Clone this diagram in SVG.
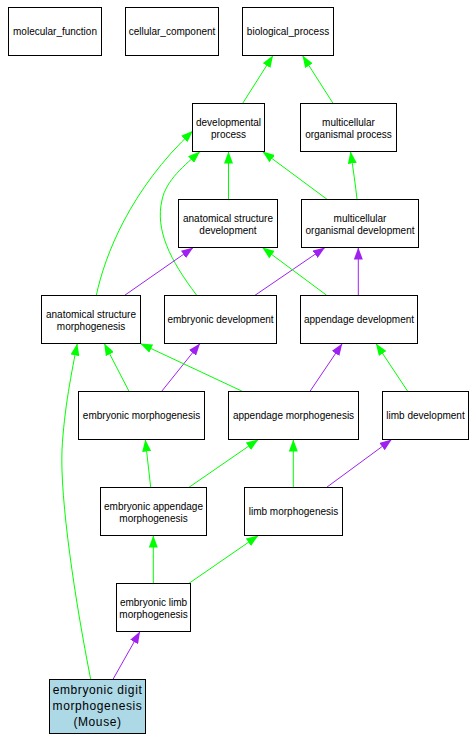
<svg xmlns="http://www.w3.org/2000/svg" width="475" height="740" viewBox="0 0 475 740">
<defs>
<style>
.n rect{fill:#fff;stroke:#000;stroke-width:1}
.n text{font-family:"Liberation Sans",Arial,sans-serif;font-size:10px;text-anchor:middle;fill:#000}
.m rect{fill:#add8e6}
.m text{font-size:12px;letter-spacing:0.6px}
.g{fill:none;stroke:#00ff00;stroke-width:1;marker-end:url(#ag)}
.p{fill:none;stroke:#a020f0;stroke-width:1;marker-end:url(#ap)}
</style>
<marker id="ag" markerUnits="userSpaceOnUse" markerWidth="12" markerHeight="9" refX="12" refY="4.5" orient="auto"><path d="M0,0 L12,4.5 L0,9 z" fill="#00ff00"/></marker>
<marker id="ap" markerUnits="userSpaceOnUse" markerWidth="12" markerHeight="9" refX="12" refY="4.5" orient="auto"><path d="M0,0 L12,4.5 L0,9 z" fill="#a020f0"/></marker>
</defs>
<rect width="475" height="740" fill="#fff"/>
<g id="edges">
<path class="g" d="M242.7,103.3 L273,55.5"/>
<path class="g" d="M333,103.3 L302.5,55.5"/>
<path class="g" d="M228.5,199.3 L228.5,151.5"/>
<path class="g" d="M327,199.3 L262.5,151.5"/>
<path class="g" d="M357,199.3 C355.5,185 353,168 350.5,151.5"/>
<path class="g" d="M96.3,295.3 C105,255 130,190 193,130.7"/>
<path class="g" d="M196.7,295.3 C170,260 155,230 162,200 C166,180 185,165 200,151.5"/>
<path class="p" d="M124.7,295.3 L193.3,247.5"/>
<path class="p" d="M255,295.3 L325,247.5"/>
<path class="g" d="M326.7,295.3 L262.3,247.5"/>
<path class="p" d="M358.3,295.3 L358.3,247.5"/>
<path class="g" d="M129,391.3 L104.3,343.5"/>
<path class="p" d="M161.7,391.3 L200,343.5"/>
<path class="g" d="M242.3,391.3 L140.3,343.5"/>
<path class="p" d="M310,391.3 L342.3,343.5"/>
<path class="g" d="M407.7,391.3 L376,343.5"/>
<path class="g" d="M90.7,679.3 C75,600 60,500 62,450 C64,410 72,370 77.3,343.5"/>
<path class="g" d="M150.7,487.3 L145.3,439.5"/>
<path class="g" d="M189,487.3 L258.3,439.5"/>
<path class="g" d="M293.3,487.3 L293.3,439.5"/>
<path class="p" d="M326.7,487.3 L391.7,439.5"/>
<path class="g" d="M153.3,583.3 L153.3,535.5"/>
<path class="g" d="M189,583.3 L258.3,535.5"/>
<path class="p" d="M113,679.3 L140,631.5"/>
</g>
<g id="molecular_function" class="n"><rect x="8.5" y="7.5" width="93" height="48"/><text x="55" y="35">molecular_function</text></g>
<g id="cellular_component" class="n"><rect x="125.5" y="7.5" width="93" height="48"/><text x="172" y="35">cellular_component</text></g>
<g id="biological_process" class="n"><rect x="242.5" y="7.5" width="91" height="48"/><text x="288" y="35">biological_process</text></g>
<g id="developmental_process" class="n"><rect x="192.5" y="103.5" width="72" height="48"/><text x="228.5" y="125.5">developmental</text><text x="228.5" y="137.5">process</text></g>
<g id="multicellular_organismal_process" class="n"><rect x="300.5" y="103.5" width="96" height="48"/><text x="348.5" y="125.5">multicellular</text><text x="348.5" y="137.5">organismal process</text></g>
<g id="anatomical_structure_development" class="n"><rect x="178.5" y="199.5" width="99" height="48"/><text x="228" y="221.5">anatomical structure</text><text x="228" y="233.5">development</text></g>
<g id="multicellular_organismal_development" class="n"><rect x="301.5" y="199.5" width="117" height="48"/><text x="360" y="221.5">multicellular</text><text x="360" y="233.5">organismal development</text></g>
<g id="anatomical_structure_morphogenesis" class="n"><rect x="41.5" y="295.5" width="99" height="48"/><text x="91" y="317.5">anatomical structure</text><text x="91" y="329.5">morphogenesis</text></g>
<g id="embryonic_development" class="n"><rect x="164.5" y="295.5" width="112" height="48"/><text x="220.5" y="323">embryonic development</text></g>
<g id="appendage_development" class="n"><rect x="300.5" y="295.5" width="117" height="48"/><text x="359" y="323">appendage development</text></g>
<g id="embryonic_morphogenesis" class="n"><rect x="78.5" y="391.5" width="126" height="48"/><text x="141.5" y="419">embryonic morphogenesis</text></g>
<g id="appendage_morphogenesis" class="n"><rect x="228.5" y="391.5" width="130" height="48"/><text x="293.5" y="419">appendage morphogenesis</text></g>
<g id="limb_development" class="n"><rect x="382.5" y="391.5" width="86" height="48"/><text x="425.5" y="419">limb development</text></g>
<g id="embryonic_appendage_morphogenesis" class="n"><rect x="100.5" y="487.5" width="106" height="48"/><text x="153.5" y="509.5">embryonic appendage</text><text x="153.5" y="521.5">morphogenesis</text></g>
<g id="limb_morphogenesis" class="n"><rect x="244.5" y="487.5" width="98" height="48"/><text x="293.5" y="515">limb morphogenesis</text></g>
<g id="embryonic_limb_morphogenesis" class="n"><rect x="116.5" y="583.5" width="74" height="48"/><text x="153.5" y="605.5">embryonic limb</text><text x="153.5" y="617.5">morphogenesis</text></g>
<g id="embryonic_digit_morphogenesis" class="n m"><rect x="49.5" y="679.5" width="96" height="54"/><text x="97.5" y="693.5">embryonic digit</text><text x="97.5" y="709.5">morphogenesis</text><text x="97.5" y="725.5">(Mouse)</text></g>
</svg>
